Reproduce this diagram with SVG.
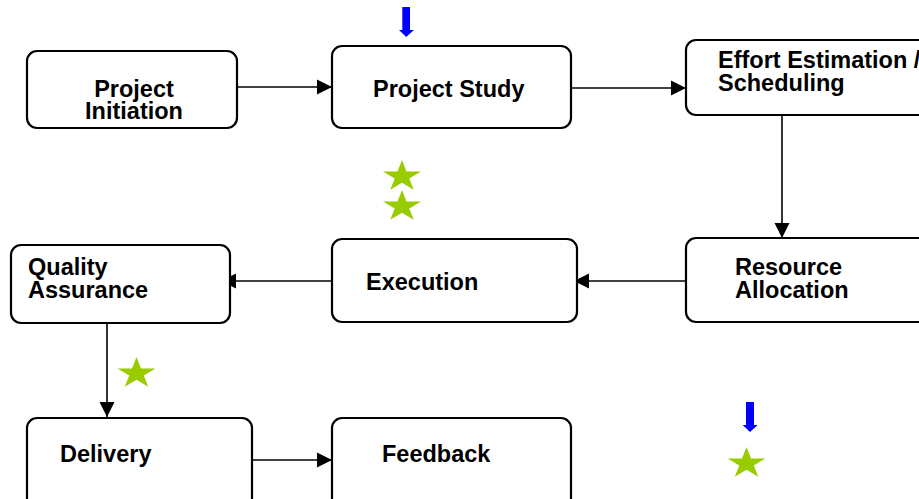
<svg xmlns="http://www.w3.org/2000/svg" width="919" height="499" viewBox="0 0 919 499">
<style>
.box{fill:#fff;stroke:#000;stroke-width:2.2}
.t{font-family:"Liberation Sans",Arial,sans-serif;font-weight:bold;font-size:23.5px;fill:#000}
.c{stroke:#000;stroke-width:1.6;fill:none;marker-end:url(#ah)}
.star{fill:#99CC00}
.blue{fill:#0000FF}
</style>
<defs>
<marker id="ah" markerUnits="userSpaceOnUse" markerWidth="16" markerHeight="16" viewBox="0 0 16 16" refX="15" refY="8" orient="auto">
<path d="M0,0.5 L15,8 L0,15.5 Z" fill="#000"/>
</marker>
<polygon id="st" points="0,-16.5 4.49,-5.1 19.02,-5.1 7.27,1.95 11.76,13.35 0,6.3 -11.76,13.35 -7.27,1.95 -19.02,-5.1 -4.49,-5.1"/>
</defs>
<rect width="919" height="499" fill="#fff"/>
<g id="connectors">
<line class="c" x1="237" y1="87" x2="332" y2="87"/>
<line class="c" x1="571" y1="88" x2="686" y2="88"/>
<line class="c" x1="782" y1="115" x2="782" y2="238"/>
<line class="c" x1="686" y1="281" x2="574" y2="281"/>
<line class="c" x1="332" y1="281" x2="221" y2="281"/>
<line class="c" x1="107" y1="323" x2="107" y2="417"/>
<line class="c" x1="252" y1="460" x2="332" y2="460"/>
</g>
<g id="n-initiation">
<rect class="box" x="27" y="51" width="210" height="77" rx="10"/>
<text class="t" text-anchor="middle"><tspan x="134" y="97">Project</tspan><tspan x="134" y="119">Initiation</tspan></text>
</g>
<g id="n-study">
<rect class="box" x="332" y="46" width="239" height="82" rx="10"/>
<text class="t" x="373" y="97">Project Study</text>
</g>
<g id="n-effort">
<rect class="box" x="686" y="40" width="245" height="75" rx="10"/>
<text class="t"><tspan x="718" y="68">Effort Estimation /</tspan><tspan x="718" y="91">Scheduling</tspan></text>
</g>
<g id="n-resource">
<rect class="box" x="686" y="238" width="245" height="84" rx="10"/>
<text class="t"><tspan x="735" y="275">Resource</tspan><tspan x="735" y="298">Allocation</tspan></text>
</g>
<g id="n-execution">
<rect class="box" x="332" y="239" width="245" height="83" rx="10"/>
<text class="t" x="366" y="290">Execution</text>
</g>
<g id="n-qa">
<rect class="box" x="11" y="245" width="219" height="78" rx="10"/>
<text class="t"><tspan x="28" y="275">Quality</tspan><tspan x="28" y="298">Assurance</tspan></text>
</g>
<g id="n-delivery">
<rect class="box" x="27" y="418" width="225" height="100" rx="10"/>
<text class="t" x="60" y="462">Delivery</text>
</g>
<g id="n-feedback">
<rect class="box" x="332" y="418" width="239" height="100" rx="10"/>
<text class="t" x="382" y="462">Feedback</text>
</g>
<g id="marks">
<polygon class="blue" points="402.3,7 410,7 410,30 414,30 406.2,37 399,30 402.3,30"/>
<polygon class="blue" points="746,402 754,402 754,425 757.7,425 750,432 742.7,425 746,425"/>
<use href="#st" class="star" x="402" y="176.5"/>
<use href="#st" class="star" x="402" y="206.5"/>
<use href="#st" class="star" x="136.5" y="373.5"/>
<use href="#st" class="star" x="746.5" y="463.5"/>
</g>
</svg>
